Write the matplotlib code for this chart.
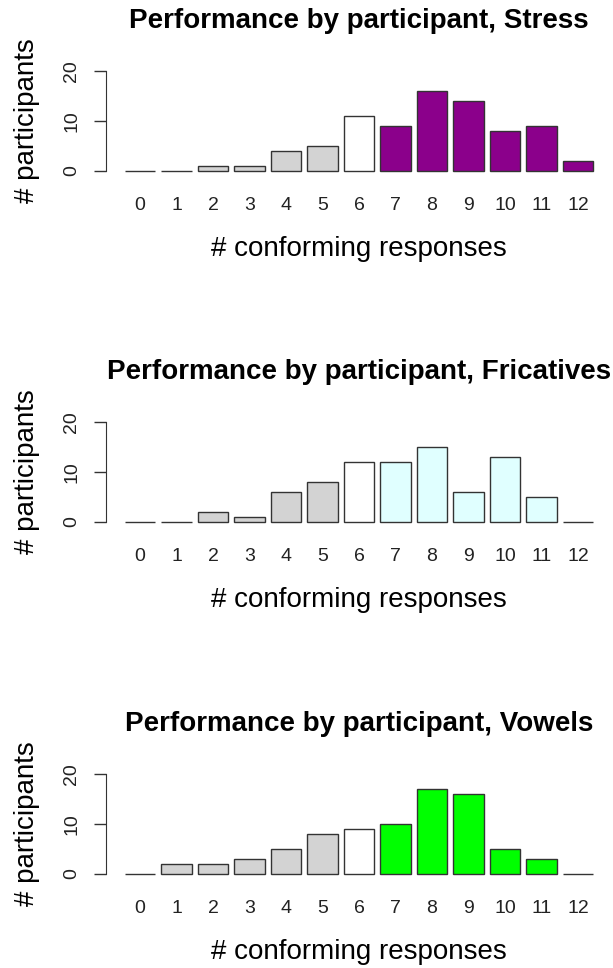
import numpy as np
import matplotlib.pyplot as plt

plt.rcParams['font.family'] = ['Liberation Sans', 'DejaVu Sans']

# number of conforming responses (0-12) and participants per count
responses = list(range(13))
stress = [0, 0, 1, 1, 4, 5, 11, 9, 16, 14, 8, 9, 2]
fricatives = [0, 0, 2, 1, 6, 8, 12, 12, 15, 6, 13, 5, 0]
vowels = [0, 2, 2, 3, 5, 8, 9, 10, 17, 16, 5, 3, 0]

panels = [
    ("Stress", stress, "#8B008B"),
    ("Fricatives", fricatives, "#E0FFFF"),
    ("Vowels", vowels, "#00FF00"),
]

fig = plt.figure(figsize=(6.13, 9.68), dpi=100)

W, H = 613, 968
left_px, right_px = 106, 612
tops = [67, 418, 770]
ax_h = 108

# R barplot geometry: width 1, space 0.2
centers = 0.7 + 1.2 * np.arange(len(responses))

for (name, vals, col), top in zip(panels, tops):
    ax = fig.add_axes([left_px / W, 1 - (top + ax_h) / H,
                       (right_px - left_px) / W, ax_h / H])
    colors = ['#D3D3D3'] * 6 + ['white'] + [col] * 6
    ax.bar(centers, vals, width=1.0, color=colors, edgecolor='#333333',
           linewidth=1.0)
    ax.set_xlim(-0.416, 16.216)
    ax.set_ylim(-0.8, 20.8)
    for s in ['top', 'right', 'bottom']:
        ax.spines[s].set_visible(False)
    ax.spines['left'].set_bounds(0, 20)
    ax.spines['left'].set_color('#333333')
    ax.set_yticks([0, 10, 20])
    ax.set_yticklabels(['0', '10', '20'], rotation=90, va='center',
                       fontsize=14, color='#222222')
    ax.tick_params(axis='y', length=8.6, width=1, color='#333333', pad=10)
    ax.set_xticks(centers)
    ax.set_xticklabels([str(r) for r in responses], fontsize=14,
                       color='#222222')
    ax.tick_params(axis='x', length=0, pad=16)
    ax.set_xlabel('# conforming responses', fontsize=20, labelpad=16)
    ax.set_ylabel('# participants', fontsize=20, labelpad=17)
    ax.set_title('Performance by participant, ' + name, fontsize=20,
                 fontweight='bold', pad=28)

fig.savefig('out.png', dpi=100)
